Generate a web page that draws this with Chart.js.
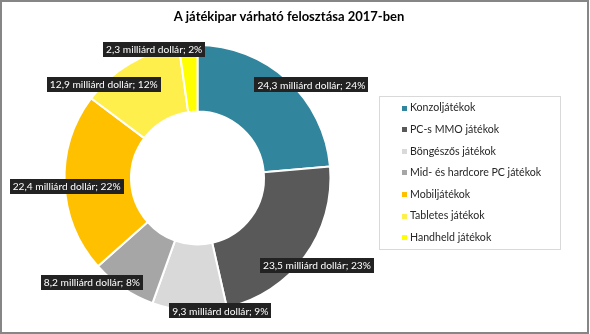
<!DOCTYPE html>
<html>
<head>
<meta charset="utf-8">
<script src="https://cdn.jsdelivr.net/npm/chart.js@4"></script>
<style>
  html, body { margin: 0; padding: 0; background: #fff; }
  #wrap { width: 590px; height: 334px; }
</style>
</head>
<body>
<div id="wrap"><canvas id="c" width="590" height="334"></canvas></div>
<script>
// Game industry revenue forecast for 2017 (billion USD)
const titleText = 'A játékipar várható felosztása 2017-ben';
const categories = [
  'Konzoljátékok',
  'PC-s MMO játékok',
  'Böngészős játékok',
  'Mid- és hardcore PC játékok',
  'Mobiljátékok',
  'Tabletes játékok',
  'Handheld játékok'
];
const revenue = [24.3, 23.5, 9.3, 8.2, 22.4, 12.9, 2.3];
const sharePercent = [24, 23, 9, 8, 22, 12, 2];

const sliceColors = ['#31859C', '#595959', '#D9D9D9', '#A6A6A6', '#FFC000', '#FFEF4C', '#FFFF00'];
// label nudges (px) relative to each slice's outer mid-point
const labelNudge = [[24, 5], [12, 9], [31, 0], [-31, -6], [2, 3], [-26, 21], [-34, 4]];

const FONT = 'Lato, "Open Sans", sans-serif';

const framePlugin = {
  id: 'frame',
  beforeDraw(chart) {
    const ctx = chart.ctx;
    ctx.save();
    ctx.fillStyle = '#fff';
    ctx.fillRect(0, 0, chart.width, chart.height);
    ctx.restore();
  },
  afterDraw(chart) {
    const ctx = chart.ctx;
    ctx.save();
    ctx.strokeStyle = '#868686';
    ctx.lineWidth = 2;
    ctx.strokeRect(1, 1, 587, 332);
    // title
    ctx.fillStyle = '#000';
    ctx.font = 'bold 13px ' + FONT;
    ctx.textAlign = 'center';
    ctx.textBaseline = 'middle';
    ctx.fillText(titleText, 289, 17);
    ctx.restore();
  }
};

const sliceLabels = {
  id: 'sliceLabels',
  afterDatasetsDraw(chart) {
    const ctx = chart.ctx;
    const meta = chart.getDatasetMeta(0);
    ctx.save();
    ctx.font = '10.2px ' + FONT;
    ctx.textBaseline = 'middle';
    ctx.textAlign = 'center';
    meta.data.forEach((arc, i) => {
      const p = arc.getProps(['x', 'y', 'startAngle', 'endAngle', 'outerRadius'], true);
      const mid = (p.startAngle + p.endAngle) / 2;
      const cx = p.x + Math.cos(mid) * p.outerRadius + labelNudge[i][0];
      const cy = p.y + Math.sin(mid) * p.outerRadius + labelNudge[i][1];
      const txt = revenue[i].toFixed(1).replace('.', ',') + ' milliárd dollár; ' + sharePercent[i] + '%';
      const w = ctx.measureText(txt).width + 6;
      const h = 15;
      ctx.fillStyle = '#222222';
      ctx.fillRect(Math.round(cx - w / 2), Math.round(cy - h / 2), Math.round(w), h);
      ctx.fillStyle = '#ffffff';
      ctx.fillText(txt, cx, cy + 0.5);
    });
    ctx.restore();
  }
};

const legendBox = {
  id: 'legendBox',
  afterDraw(chart) {
    const ctx = chart.ctx;
    ctx.save();
    ctx.strokeStyle = '#D9D9D9';
    ctx.lineWidth = 1;
    ctx.strokeRect(379.5, 96.5, 181, 153);
    ctx.font = '10.6px ' + FONT;
    ctx.textBaseline = 'middle';
    ctx.textAlign = 'left';
    const labels = chart.data.labels;
    const colors = chart.data.datasets[0].backgroundColor;
    labels.forEach((lab, i) => {
      const y = 108 + i * 21.6;
      ctx.fillStyle = colors[i];
      ctx.fillRect(402, Math.round(y - 2.5), 5, 5);
      ctx.fillStyle = '#262626';
      ctx.fillText(lab, 410, y);
    });
    ctx.restore();
  }
};

new Chart(document.getElementById('c'), {
  type: 'doughnut',
  data: {
    labels: categories,
    datasets: [{
      data: revenue,
      backgroundColor: sliceColors,
      borderColor: '#ffffff',
      borderWidth: 2
    }]
  },
  options: {
    responsive: false,
    animation: false,
    cutout: '50%',
    layout: { padding: { left: 63.5, right: 258.5, top: 44, bottom: 22 } },
    plugins: {
      legend: { display: false },
      title: { display: false },
      tooltip: { enabled: false }
    }
  },
  plugins: [framePlugin, sliceLabels, legendBox]
});
</script>
</body>
</html>
